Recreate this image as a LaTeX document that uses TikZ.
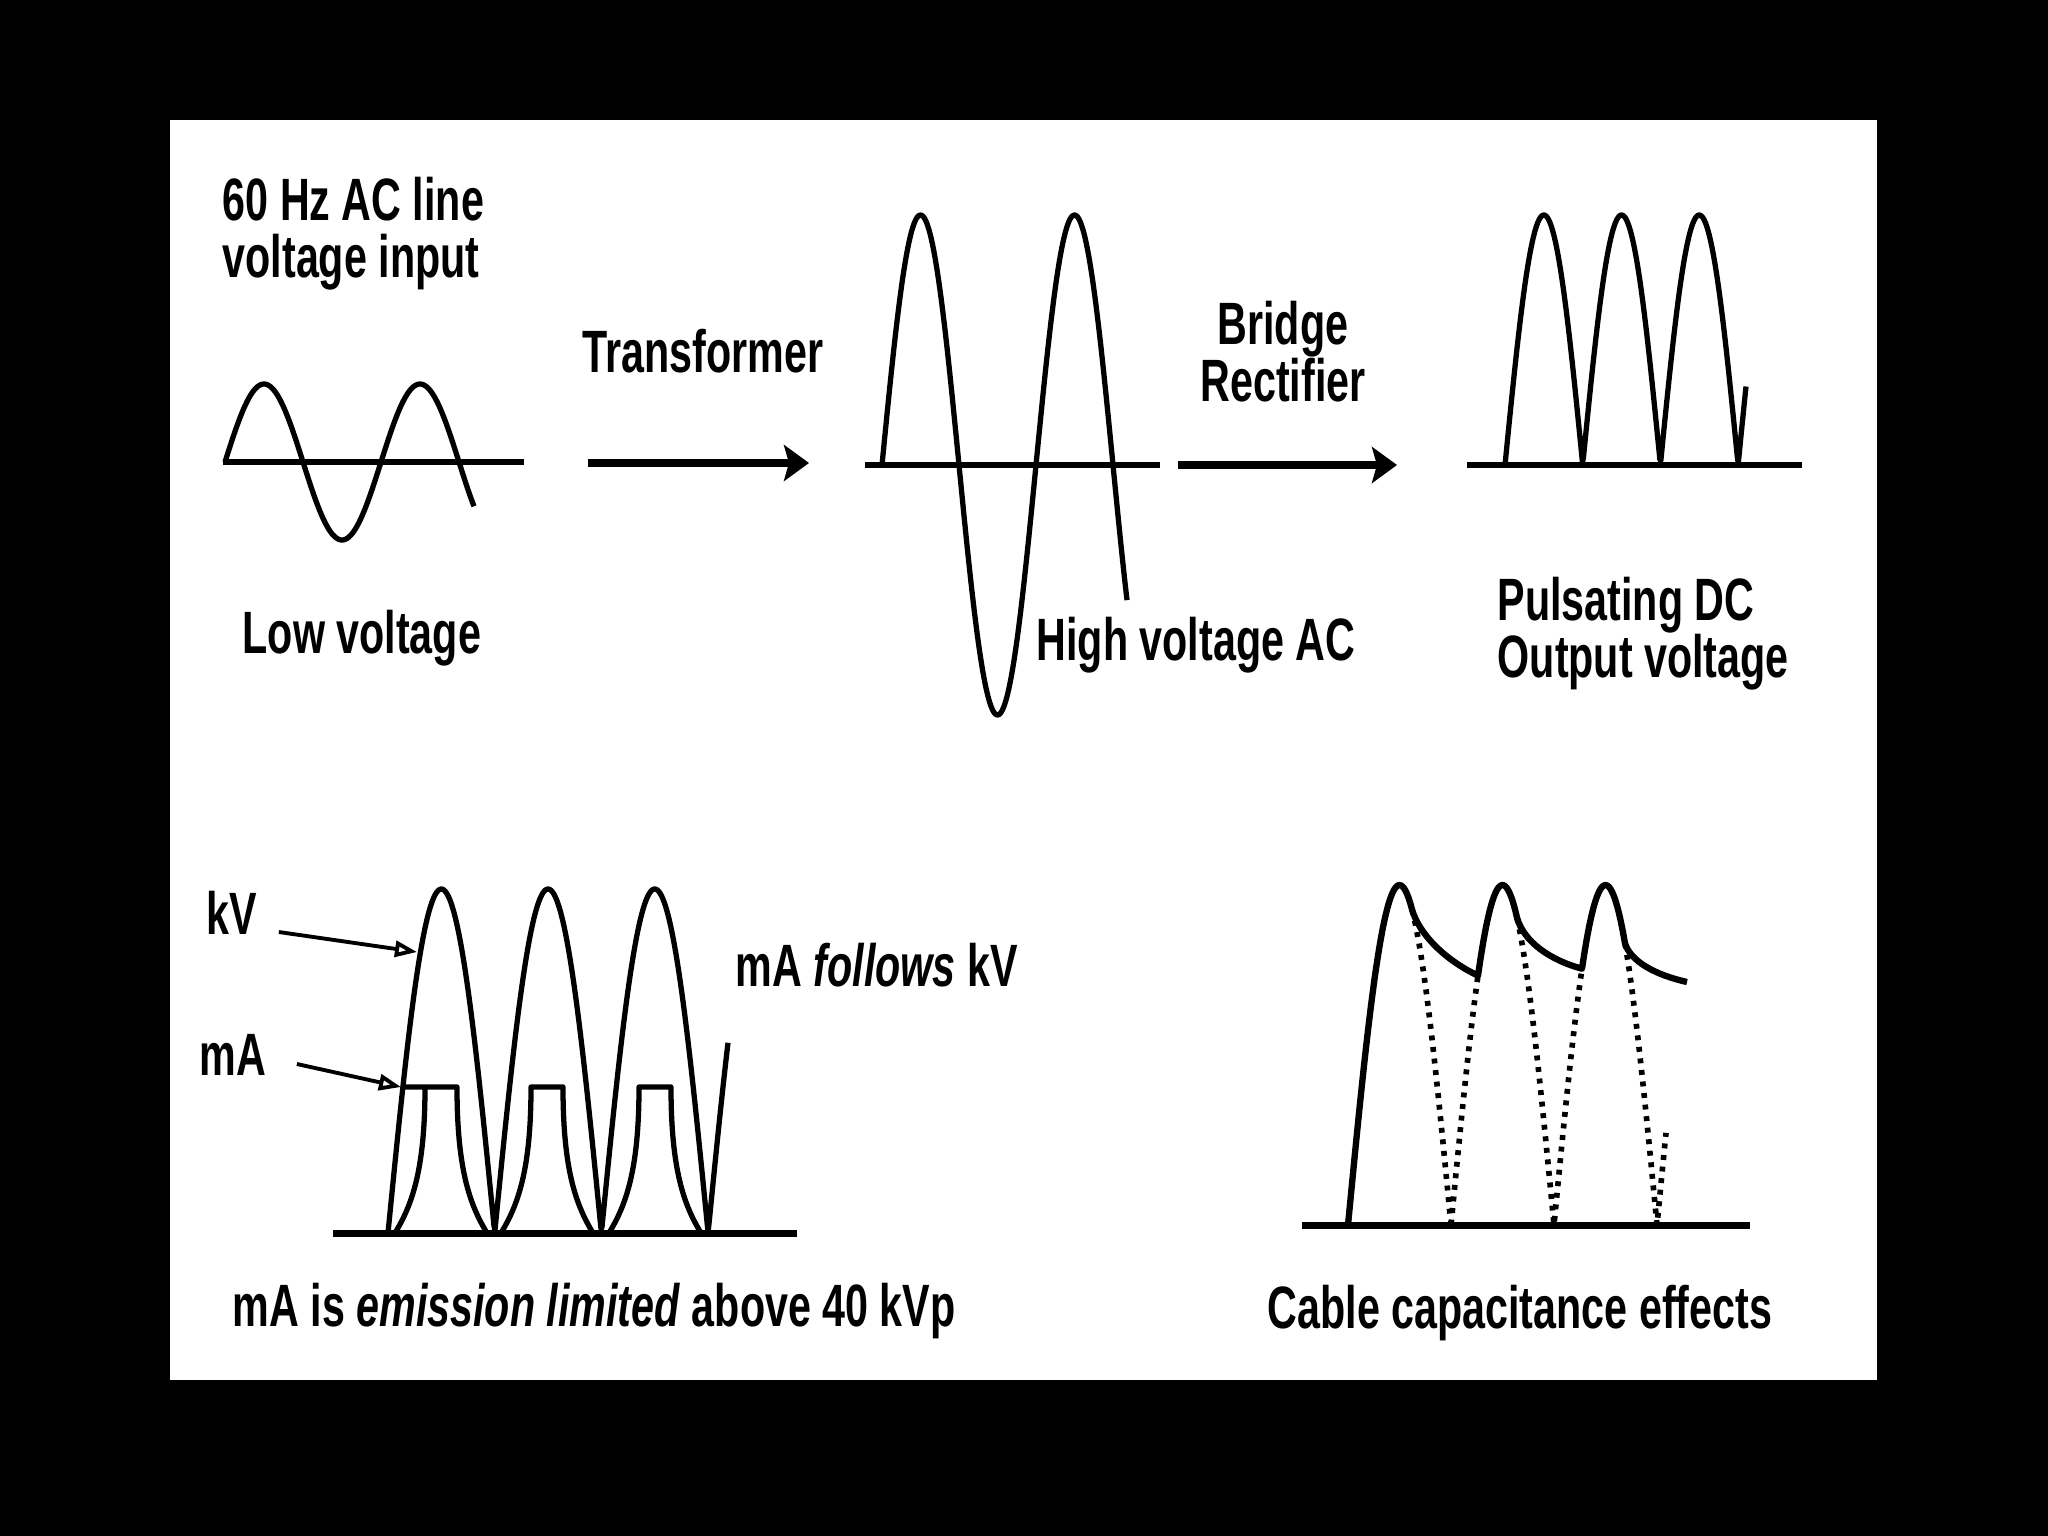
\documentclass[tikz,border=0pt]{standalone}
\usepackage{fontspec}
\setmainfont{Liberation Sans}[FakeStretch=0.69]
\usetikzlibrary{arrows.meta}

\begin{document}
\begin{tikzpicture}[x=0.01cm,y=-0.01cm,
    label text/.style={font=\bfseries\fontsize{17}{16.2}\selectfont,inner sep=0pt,align=left},
    wave/.style={line width=1.5pt,line join=round},
    axis line/.style={line width=1.8pt},
    flow arrow/.style={line width=2.3pt,-{Stealth[length=0.25cm,width=0.36cm,inset=0.05cm]}},
    pointer/.style={line width=1.1pt,-{Triangle[open,length=0.22cm,width=0.16cm]}},
    dotted wave/.style={line width=1.6pt,line join=round,dash pattern=on 1.4pt off 1.9pt}]

    % Frame
    \useasboundingbox (0,0) rectangle (2048,1536);
    \fill[black] (0,0) rectangle (2048,1536);
    \fill[white] (170,120) rectangle (1877,1380);

    % Labels (base of a two-line label is its last line)
    \node[label text,anchor=base west] (input) at (222,277) {60 Hz AC line\\voltage input};
    \node[label text,anchor=base west] (low) at (242,653) {Low voltage};
    \node[label text,anchor=base west] (trafo) at (582,372) {Transformer};
    \node[label text,anchor=base west] (high) at (1036,660) {High voltage AC};
    \node[label text,anchor=base,align=center] (bridge) at (1283,401) {Bridge\\Rectifier};
    \node[label text,anchor=base west] (pulsating) at (1497,677) {Pulsating DC\\Output voltage};
    \node[label text,anchor=base west] (kv) at (206,934) {kV};
    \node[label text,anchor=base west] (ma) at (199,1075) {mA};
    \node[label text,anchor=base west] (follows) at (735,986) {mA \textit{follows} kV};
    \node[label text,anchor=base west] (limited) at (232,1326) {mA is \textit{emission limited} above 40 kVp};
    \node[label text,anchor=base west] (cable) at (1267,1328) {Cable capacitance effects};

    % Low voltage input
    \draw[axis line] (223,462) -- (524,462);
    \draw[wave] plot[domain=225:474,samples=150] (\x,{462-78*sin((\x-225)/78*180)});

    % Transformer
    \coordinate (trafo start) at (588,463);
    \coordinate (trafo end) at (809,463);
    \draw[flow arrow] (trafo start) -- (trafo end);

    % High voltage AC
    \draw[axis line] (865,465) -- (1160,465);
    \draw[wave] plot[domain=882:1127,samples=200] (\x,{465-250*sin((\x-882)/77*180)});

    % Bridge rectifier
    \coordinate (rect start) at (1178,465);
    \coordinate (rect end) at (1397,465);
    \draw[flow arrow] (rect start) -- (rect end);

    % Pulsating DC
    \draw[axis line] (1467,465) -- (1802,465);
    \draw[wave] plot[domain=1505:1746,samples=250] (\x,{465-250*abs(sin((\x-1505)/77.7*180))});

    % kV and mA
    \draw[axis line,line width=2pt] (333,1233) -- (797,1233);
    \draw[wave] plot[domain=388:728,samples=341] (\x,{1233-344*abs(sin((\x-388)/106.7*180))});
    \draw[wave] (395,1233) .. controls (412,1205) and (425,1170) .. (425,1087) -- (457,1087)
        .. controls (457,1170) and (470,1205) .. (487,1233)
        (403,1087) -- (425,1087);
    \draw[wave] (501,1233) .. controls (518,1205) and (531,1170) .. (531,1087) -- (563,1087)
        .. controls (563,1170) and (576,1205) .. (593,1233);
    \draw[wave] (609,1233) .. controls (626,1205) and (639,1170) .. (639,1087) -- (671,1087)
        .. controls (671,1170) and (684,1205) .. (701,1233);
    \coordinate (kv tip) at (417,952);
    \coordinate (ma tip) at (401,1087);
    \draw[pointer] ([xshift=0.21cm,yshift=0.02cm]kv.base east) -- (kv tip);
    \draw[pointer] ([xshift=0.30cm,yshift=0.11cm]ma.base east) -- (ma tip);

    % Cable capacitance
    \draw[axis line,line width=2pt] (1302,1225) -- (1750,1225);
    \draw[wave,line width=1.8pt]
        plot[domain=1348:1412,samples=40] (\x,{1225-340*abs(sin((\x-1348)/103*180))})
        .. controls (1419,934) and (1445,960) .. (1478,975.6)
        -- plot[domain=1478:1517,samples=30] (\x,{1225-340*abs(sin((\x-1348)/103*180))})
        .. controls (1524,942) and (1550,960) .. (1582,968.7)
        -- plot[domain=1582:1625,samples=30] (\x,{1225-340*abs(sin((\x-1348)/103*180))})
        .. controls (1631,962) and (1656,975) .. (1687,982);
    \draw[dotted wave] plot[domain=1412:1478,samples=80] (\x,{1225-340*abs(sin((\x-1348)/103*180))});
    \draw[dotted wave] plot[domain=1517:1582,samples=80] (\x,{1225-340*abs(sin((\x-1348)/103*180))});
    \draw[dotted wave] plot[domain=1625:1666,samples=60] (\x,{1225-340*abs(sin((\x-1348)/103*180))});

\end{tikzpicture}
\end{document}
